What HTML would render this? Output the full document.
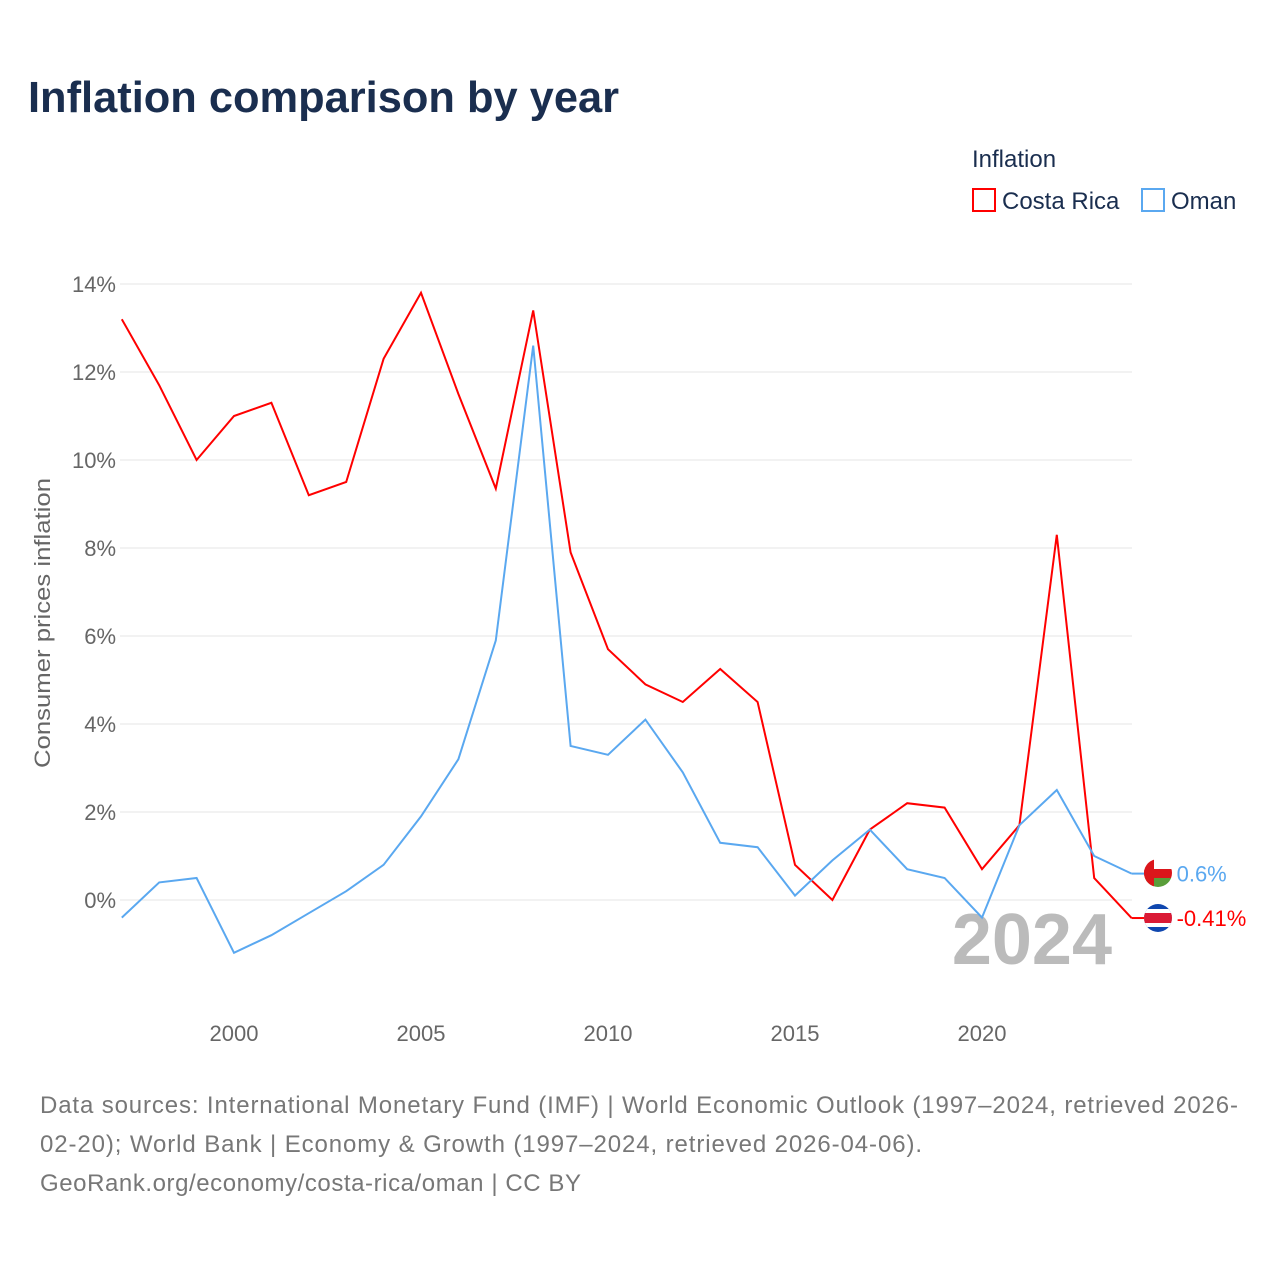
<!DOCTYPE html>
<html><head><meta charset="utf-8"><style>
body{margin:0;background:#fff;font-family:"Liberation Sans",sans-serif}
svg text{font-family:"Liberation Sans",sans-serif}
</style></head><body>
<svg id="chart" width="1280" height="1280">
<defs>
<clipPath id="cpO"><circle cx="1158" cy="873" r="14"/></clipPath>
<clipPath id="cpC"><circle cx="1158" cy="918" r="14"/></clipPath>
</defs>
<text x="28" y="112" font-size="44" font-weight="bold" fill="#1a2e4f" textLength="591" lengthAdjust="spacingAndGlyphs">Inflation comparison by year</text>
<text x="972" y="167" font-size="24" fill="#1a2e4f">Inflation</text>
<g><rect x="973" y="189" width="22" height="22" fill="none" stroke="#ff0000" stroke-width="2"/><text x="1002" y="209" font-size="24" fill="#1a2e4f">Costa Rica</text></g>
<g><rect x="1142" y="189" width="22" height="22" fill="none" stroke="#5aa8f0" stroke-width="2"/><text x="1171" y="209" font-size="24" fill="#1a2e4f">Oman</text></g>
<text transform="translate(50,623) rotate(-90)" text-anchor="middle" font-size="22" fill="#666" textLength="290" lengthAdjust="spacingAndGlyphs">Consumer prices inflation</text>
<g id="grid"></g><g id="yticks"></g><g id="xticks"></g>
<text x="1112" y="964" text-anchor="end" font-size="72" font-weight="bold" fill="#bbb">2024</text>
<g id="series"></g>
<g clip-path="url(#cpO)">
<rect x="1144" y="859" width="28" height="28" fill="#fff"/><rect x="1144" y="878" width="28" height="9" fill="#5a9e3a"/><rect x="1144" y="859" width="10" height="28" fill="#db161b"/><rect x="1144" y="869" width="28" height="9" fill="#db161b"/>
</g>
<g clip-path="url(#cpC)">
<rect x="1144" y="904" width="28" height="28" fill="#0f47af"/><rect x="1144" y="909" width="28" height="18" fill="#fff"/><rect x="1144" y="913" width="28" height="10" fill="#da1a35"/>
</g>
<text x="40" y="1113" font-size="24" fill="#777" textLength="1198" lengthAdjust="spacing">Data sources: International Monetary Fund (IMF) | World Economic Outlook (1997–2024, retrieved 2026-</text>
<text x="40" y="1152" font-size="24" fill="#777" textLength="882" lengthAdjust="spacing">02-20); World Bank | Economy &amp; Growth (1997–2024, retrieved 2026-04-06).</text>
<text x="40" y="1191" font-size="24" fill="#777" textLength="541" lengthAdjust="spacing">GeoRank.org/economy/costa-rica/oman | CC BY</text>
</svg>
<script>
const years=[1997,1998,1999,2000,2001,2002,2003,2004,2005,2006,2007,2008,2009,2010,2011,2012,2013,2014,2015,2016,2017,2018,2019,2020,2021,2022,2023,2024];
const costaRica=[13.2,11.7,10.0,11.0,11.3,9.2,9.5,12.3,13.8,11.5,9.35,13.4,7.9,5.7,4.9,4.5,5.25,4.5,0.8,0.0,1.6,2.2,2.1,0.7,1.7,8.3,0.5,-0.41];
const oman=[-0.4,0.4,0.5,-1.2,-0.8,-0.3,0.2,0.8,1.9,3.2,5.9,12.6,3.5,3.3,4.1,2.9,1.3,1.2,0.1,0.9,1.6,0.7,0.5,-0.4,1.7,2.5,1.0,0.6];
const yTicks=[0,2,4,6,8,10,12,14];
const xTicks=[2000,2005,2010,2015,2020];
const NS="http://www.w3.org/2000/svg";
const X=y=>121.8+(y-1997)*37.4;
const Y=v=>900-v*44;
function mk(t,a,p){const e=document.createElementNS(NS,t);for(const k in a)e.setAttribute(k,a[k]);p.appendChild(e);return e;}
const grid=document.getElementById('grid'),yt=document.getElementById('yticks'),xt=document.getElementById('xticks'),ser=document.getElementById('series');
yTicks.forEach(v=>{
 const l=mk('line',{x1:120,x2:1132,y1:Y(v),y2:Y(v),stroke:'#e6e6e6','stroke-width':1},grid);
 
 
 const t=mk('text',{x:116,y:Y(v)+8,'text-anchor':'end','font-size':22,fill:'#666'},yt);t.textContent=v+'%';
 
 
});
xTicks.forEach(v=>{
 const t=mk('text',{x:X(v),y:1041,'text-anchor':'middle','font-size':22,fill:'#666'},xt);t.textContent=v;
 
 
});
function line(vals,color,name){
 const p=mk('polyline',{points:vals.map((v,i)=>X(years[i])+','+Y(v)).join(' '),fill:'none',stroke:color,'stroke-width':2},ser);
 
 
 const last=vals[vals.length-1],lx=X(years[years.length-1]),ly=Y(last);
 const s=mk('line',{x1:lx,x2:lx+14,y1:ly,y2:ly,stroke:color,'stroke-width':2},ser);
 
 
 const t=mk('text',{x:lx+45,y:ly+8,'font-size':22,fill:color},ser);t.textContent=last+'%';
 
 
}
line(costaRica,'#ff0000','costa-rica');
line(oman,'#5aa8f0','oman');
</script>
</body></html>
